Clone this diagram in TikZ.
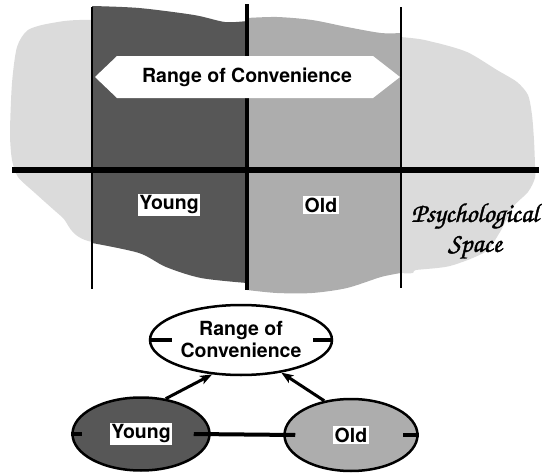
\documentclass[tikz,border=0pt]{standalone}
\usepackage{fontspec}
\setmainfont{TeX Gyre Heros}
\usetikzlibrary{shapes.geometric,arrows.meta}
% calligraphic face for the "Psychological Space" caption
\IfFontExistsTF{texgyrechorus-mediumitalic.otf}
  {\newfontfamily\chanceryface{texgyrechorus-mediumitalic.otf}[FakeBold=1.5]}
  {\newfontfamily\chanceryface{Liberation Serif}[UprightFont=*-Bold Italic]}

\definecolor{spacegray}{gray}{0.86}
\definecolor{oldgray}{gray}{0.68}
\definecolor{younggray}{gray}{0.34}

\begin{document}
\begin{tikzpicture}[x=1pt,y=-1pt,
  lbl/.style={font=\fontsize{19.5}{22}\selectfont\bfseries, text=black},
  tag/.style={lbl, fill=white, inner sep=1.5pt},
  oval/.style={ellipse, draw=black, line width=2.5pt, inner sep=0pt},
  port/.style={line width=4pt},
  link/.style={line width=3pt, -{Stealth[length=12pt,width=9pt,inset=3pt]}}
]
\useasboundingbox (0,0) rectangle (542,474);

% psychological space: light background blob
\fill[spacegray] plot[smooth cycle, tension=0.45] coordinates {
  (92,20) (247,27) (400,37) (433,42) (467,52) (497,70) (517,82) (528,95)
  (532,115) (534,140) (535,165) (535,178) (528,192) (513,207) (500,232)
  (485,252) (450,266) (416,270) (400,273) (247,258) (92,242) (62,217)
  (35,193) (18,177) (12,160) (10,133) (12,83) (17,47) (28,30) (52,23)};

% "Young" column
\fill[younggray]
  plot[smooth, tension=0.5] coordinates {(92,6) (139,8) (194,15) (225,22) (247,21)}
  -- plot[smooth, tension=0.5] coordinates {(247,283) (201,278) (166,267) (139,253) (92,243)}
  -- cycle;

% "Old" column
\fill[oldgray]
  plot[smooth, tension=0.5] coordinates {(247,18) (277,17) (312,20) (347,27) (381,33) (401,33)}
  -- plot[smooth, tension=0.5] coordinates {(401,273) (381,277) (347,288) (312,293) (277,293) (247,290)}
  -- cycle;

% dividing lines
\draw[line width=2.5pt] (92,7) -- (92,289);
\draw[line width=4.5pt] (247,4) -- (247,290);
\draw[line width=2.5pt] (401,7) -- (401,288);
\draw[line width=6pt] (12,170) -- (539,170);

% range of convenience banner
\fill[white] (95,77) -- (117,56) -- (373,56) -- (400,77) -- (373,98) -- (117,98) -- cycle;
\node[lbl] (bannertxt) at (247,77) {Range of Convenience};

\node[tag] (youngtop) at (169,205) {Young};
\node[tag] (oldtop) at (321,205) {Old};
\node[align=center, font=\chanceryface\fontsize{27}{30}\selectfont] (psy) at (475,231) {Psychological\\Space};

% construct graph
\node[oval, fill=white, minimum width=182pt, minimum height=70pt] (roc) at (241,340) {};
\node[lbl, align=center] (roctxt) at (roc) {Range of\\Convenience};
\node[oval, fill=younggray, minimum width=137pt, minimum height=73pt] (yb) at (141,434) {};
\node[oval, fill=oldgray, minimum width=133pt, minimum height=72pt] (ob) at (351,435) {};
\node[tag] (ybtxt) at (yb) {Young};
\node[tag] (obtxt) at (ob) {Old};

\draw[port] (roc.west) -- ++(23pt,0);
\draw[port] (roc.east) -- ++(-20pt,0);
\draw[port] (yb.west) -- ++(11pt,0);
\draw[port] (ob.east) -- ++(-16pt,0);
\draw[port] ([xshift=-17pt]yb.east) -- ([xshift=12pt]ob.west);

\draw[link] (yb.55) -- (roc.230);
\draw[link] (ob.128) -- (roc.321);
\end{tikzpicture}
\end{document}
